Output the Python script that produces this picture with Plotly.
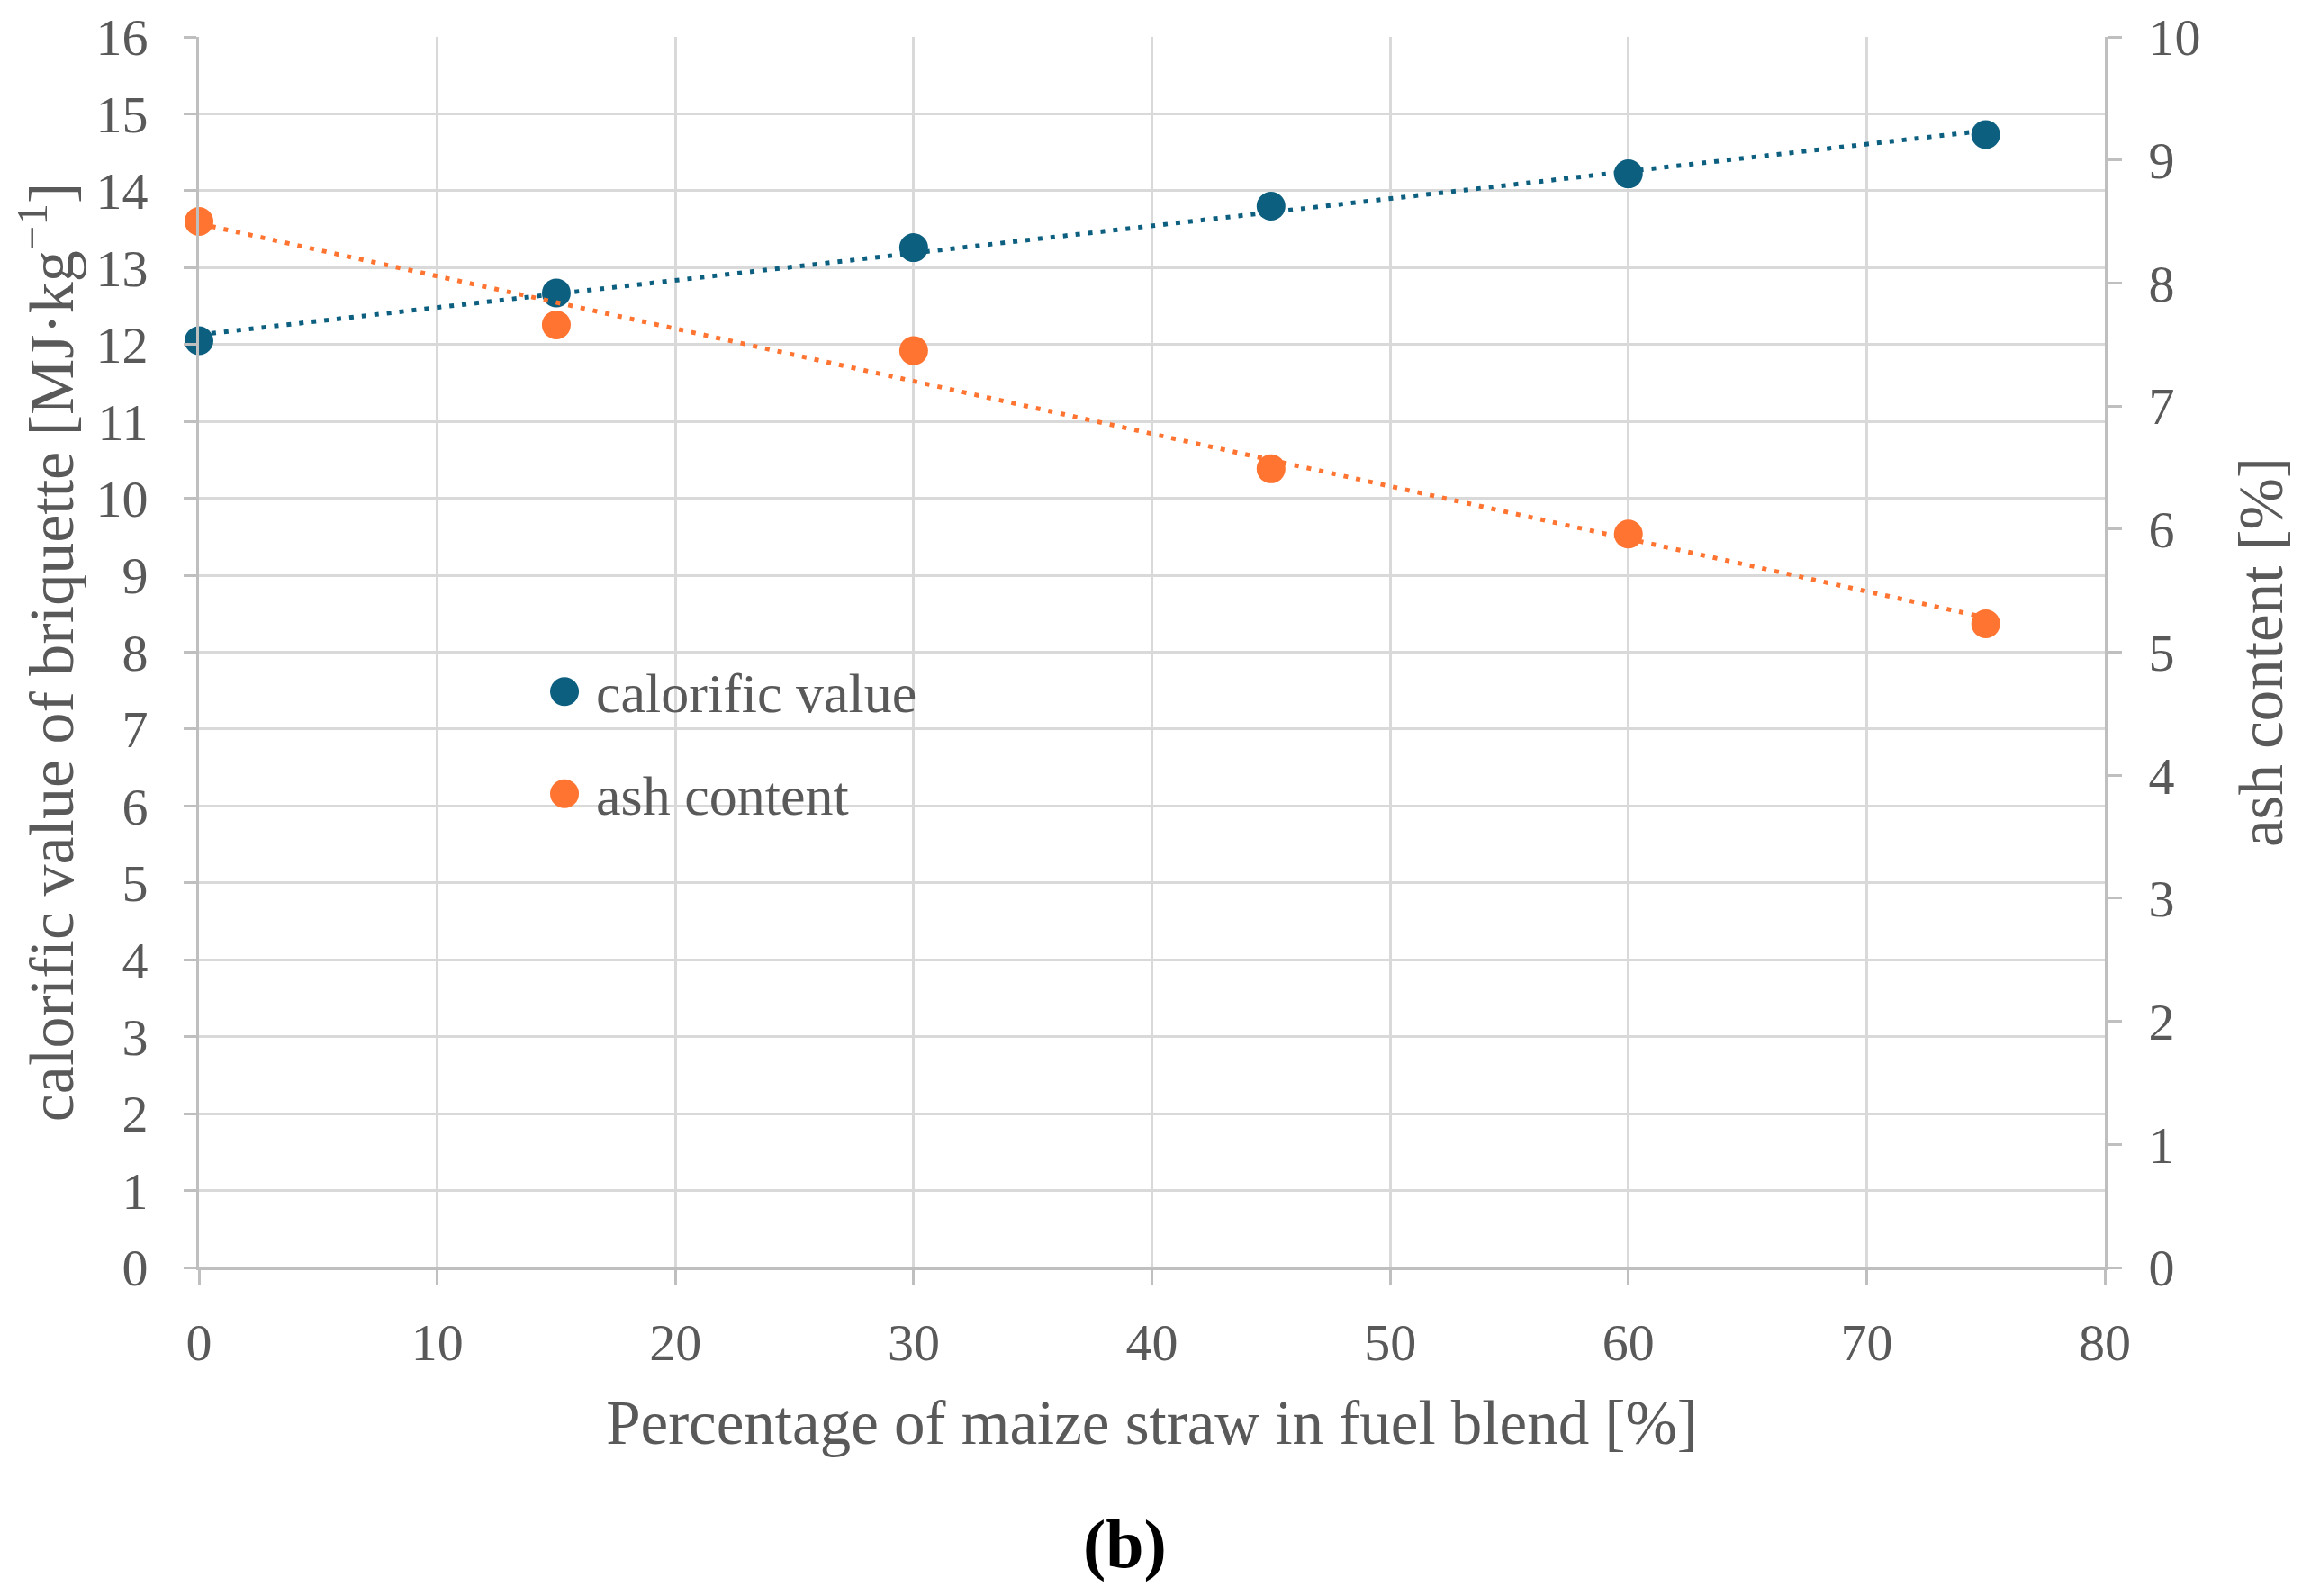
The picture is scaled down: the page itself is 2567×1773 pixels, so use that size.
import numpy as np
import plotly.graph_objects as go

# ---- data ----
straw_pct = [0, 15, 30, 45, 60, 75]
calorific_value = [12.05, 12.67, 13.26, 13.80, 14.22, 14.73]
ash_content = [8.50, 7.66, 7.45, 6.49, 5.96, 5.23]

x_ticks = [0, 10, 20, 30, 40, 50, 60, 70, 80]
left_ticks = list(range(0, 17))
right_ticks = list(range(0, 11))

series_names = ["calorific value", "ash content"]

BLUE = "#0D5F80"
ORANGE = "#FF7430"
GRID = "#D9D9D9"
AXIS = "#BFBFBF"
TEXT = "#595959"
FONT = "Liberation Serif"

# linear trendlines (as in the spreadsheet chart)
cv_fit = np.polyfit(straw_pct, calorific_value, 1)
ash_fit = np.polyfit(straw_pct, ash_content, 1)
trend_x = [straw_pct[0], straw_pct[-1]]

fig = go.Figure()

fig.add_trace(go.Scatter(
    x=trend_x, y=list(np.polyval(cv_fit, trend_x)), mode="lines",
    line=dict(color=BLUE, width=5, dash="5px,9px"), showlegend=False, hoverinfo="skip"))
fig.add_trace(go.Scatter(
    x=trend_x, y=list(np.polyval(ash_fit, trend_x)), mode="lines", yaxis="y2",
    line=dict(color=ORANGE, width=5, dash="5px,9px"), showlegend=False, hoverinfo="skip"))

fig.add_trace(go.Scatter(
    x=straw_pct, y=calorific_value, mode="markers", name=series_names[0],
    marker=dict(color=BLUE, size=32), showlegend=False, cliponaxis=False))
fig.add_trace(go.Scatter(
    x=straw_pct, y=ash_content, mode="markers", name=series_names[1], yaxis="y2",
    marker=dict(color=ORANGE, size=32), showlegend=False, cliponaxis=False))

# legend drawn by hand (plotly caps legend marker size)
legend_x = 0.1918
legend_text_x = 0.2075
legend_ys = [0.468, 0.385]
shapes = []
annotations = []
for name, color, ly in zip(series_names, [BLUE, ORANGE], legend_ys):
    shapes.append(dict(
        type="circle", xref="paper", yref="paper",
        xsizemode="pixel", ysizemode="pixel",
        xanchor=legend_x, yanchor=ly, x0=-16, x1=16, y0=-16, y1=16,
        fillcolor=color, line=dict(width=0)))
    annotations.append(dict(
        text=name, xref="paper", yref="paper", x=legend_text_x, y=ly,
        xanchor="left", yanchor="middle", showarrow=False, yshift=-2,
        font=dict(family=FONT, size=62, color=TEXT)))

annotations.append(dict(
    text="<b>(b)</b>", xref="paper", yref="paper", x=0.4856, y=-0.2246,
    xanchor="center", yanchor="middle",
    showarrow=False, font=dict(family=FONT, size=76, color="black"),
))

fig.update_layout(
    width=2559, height=1765,
    margin=dict(l=213, r=229, t=33, b=365, autoexpand=False),
    paper_bgcolor="white", plot_bgcolor="white",
    font=dict(family=FONT, color=TEXT, size=58),
    showlegend=False,
    xaxis=dict(
        range=[0, 80], tickvals=x_ticks, showgrid=True, gridcolor=GRID, gridwidth=3,
        showline=True, linecolor=AXIS, linewidth=3, zeroline=False, automargin=False,
        ticks="outside", ticklen=16, tickwidth=3, tickcolor=AXIS,
        tickfont=dict(size=58, color=TEXT), ticklabelstandoff=14,
        title=dict(text="Percentage of maize straw in fuel blend [%]",
                   font=dict(size=69, color=TEXT), standoff=34),
    ),
    yaxis=dict(
        range=[0, 16], tickvals=left_ticks, showgrid=True, gridcolor=GRID, gridwidth=3,
        showline=True, linecolor=AXIS, linewidth=3, zeroline=False, automargin=False,
        ticks="outside", ticklen=14, tickwidth=3, tickcolor=AXIS,
        tickfont=dict(size=58, color=TEXT), ticklabelstandoff=28,
        title=dict(text="calorific value of briquette [MJ·kg<sup>−1</sup>]",
                   font=dict(size=70, color=TEXT), standoff=14),
    ),
    yaxis2=dict(
        range=[0, 10], tickvals=right_ticks, overlaying="y", side="right",
        showgrid=False, showline=True, linecolor=AXIS, linewidth=3, zeroline=False,
        automargin=False,
        ticks="outside", ticklen=16, tickwidth=3, tickcolor=AXIS,
        tickfont=dict(size=58, color=TEXT), ticklabelstandoff=18,
        title=dict(text="ash content [%]", font=dict(size=69, color=TEXT), standoff=44),
    ),
    shapes=shapes,
    annotations=annotations,
)

fig.write_html("out.html")
